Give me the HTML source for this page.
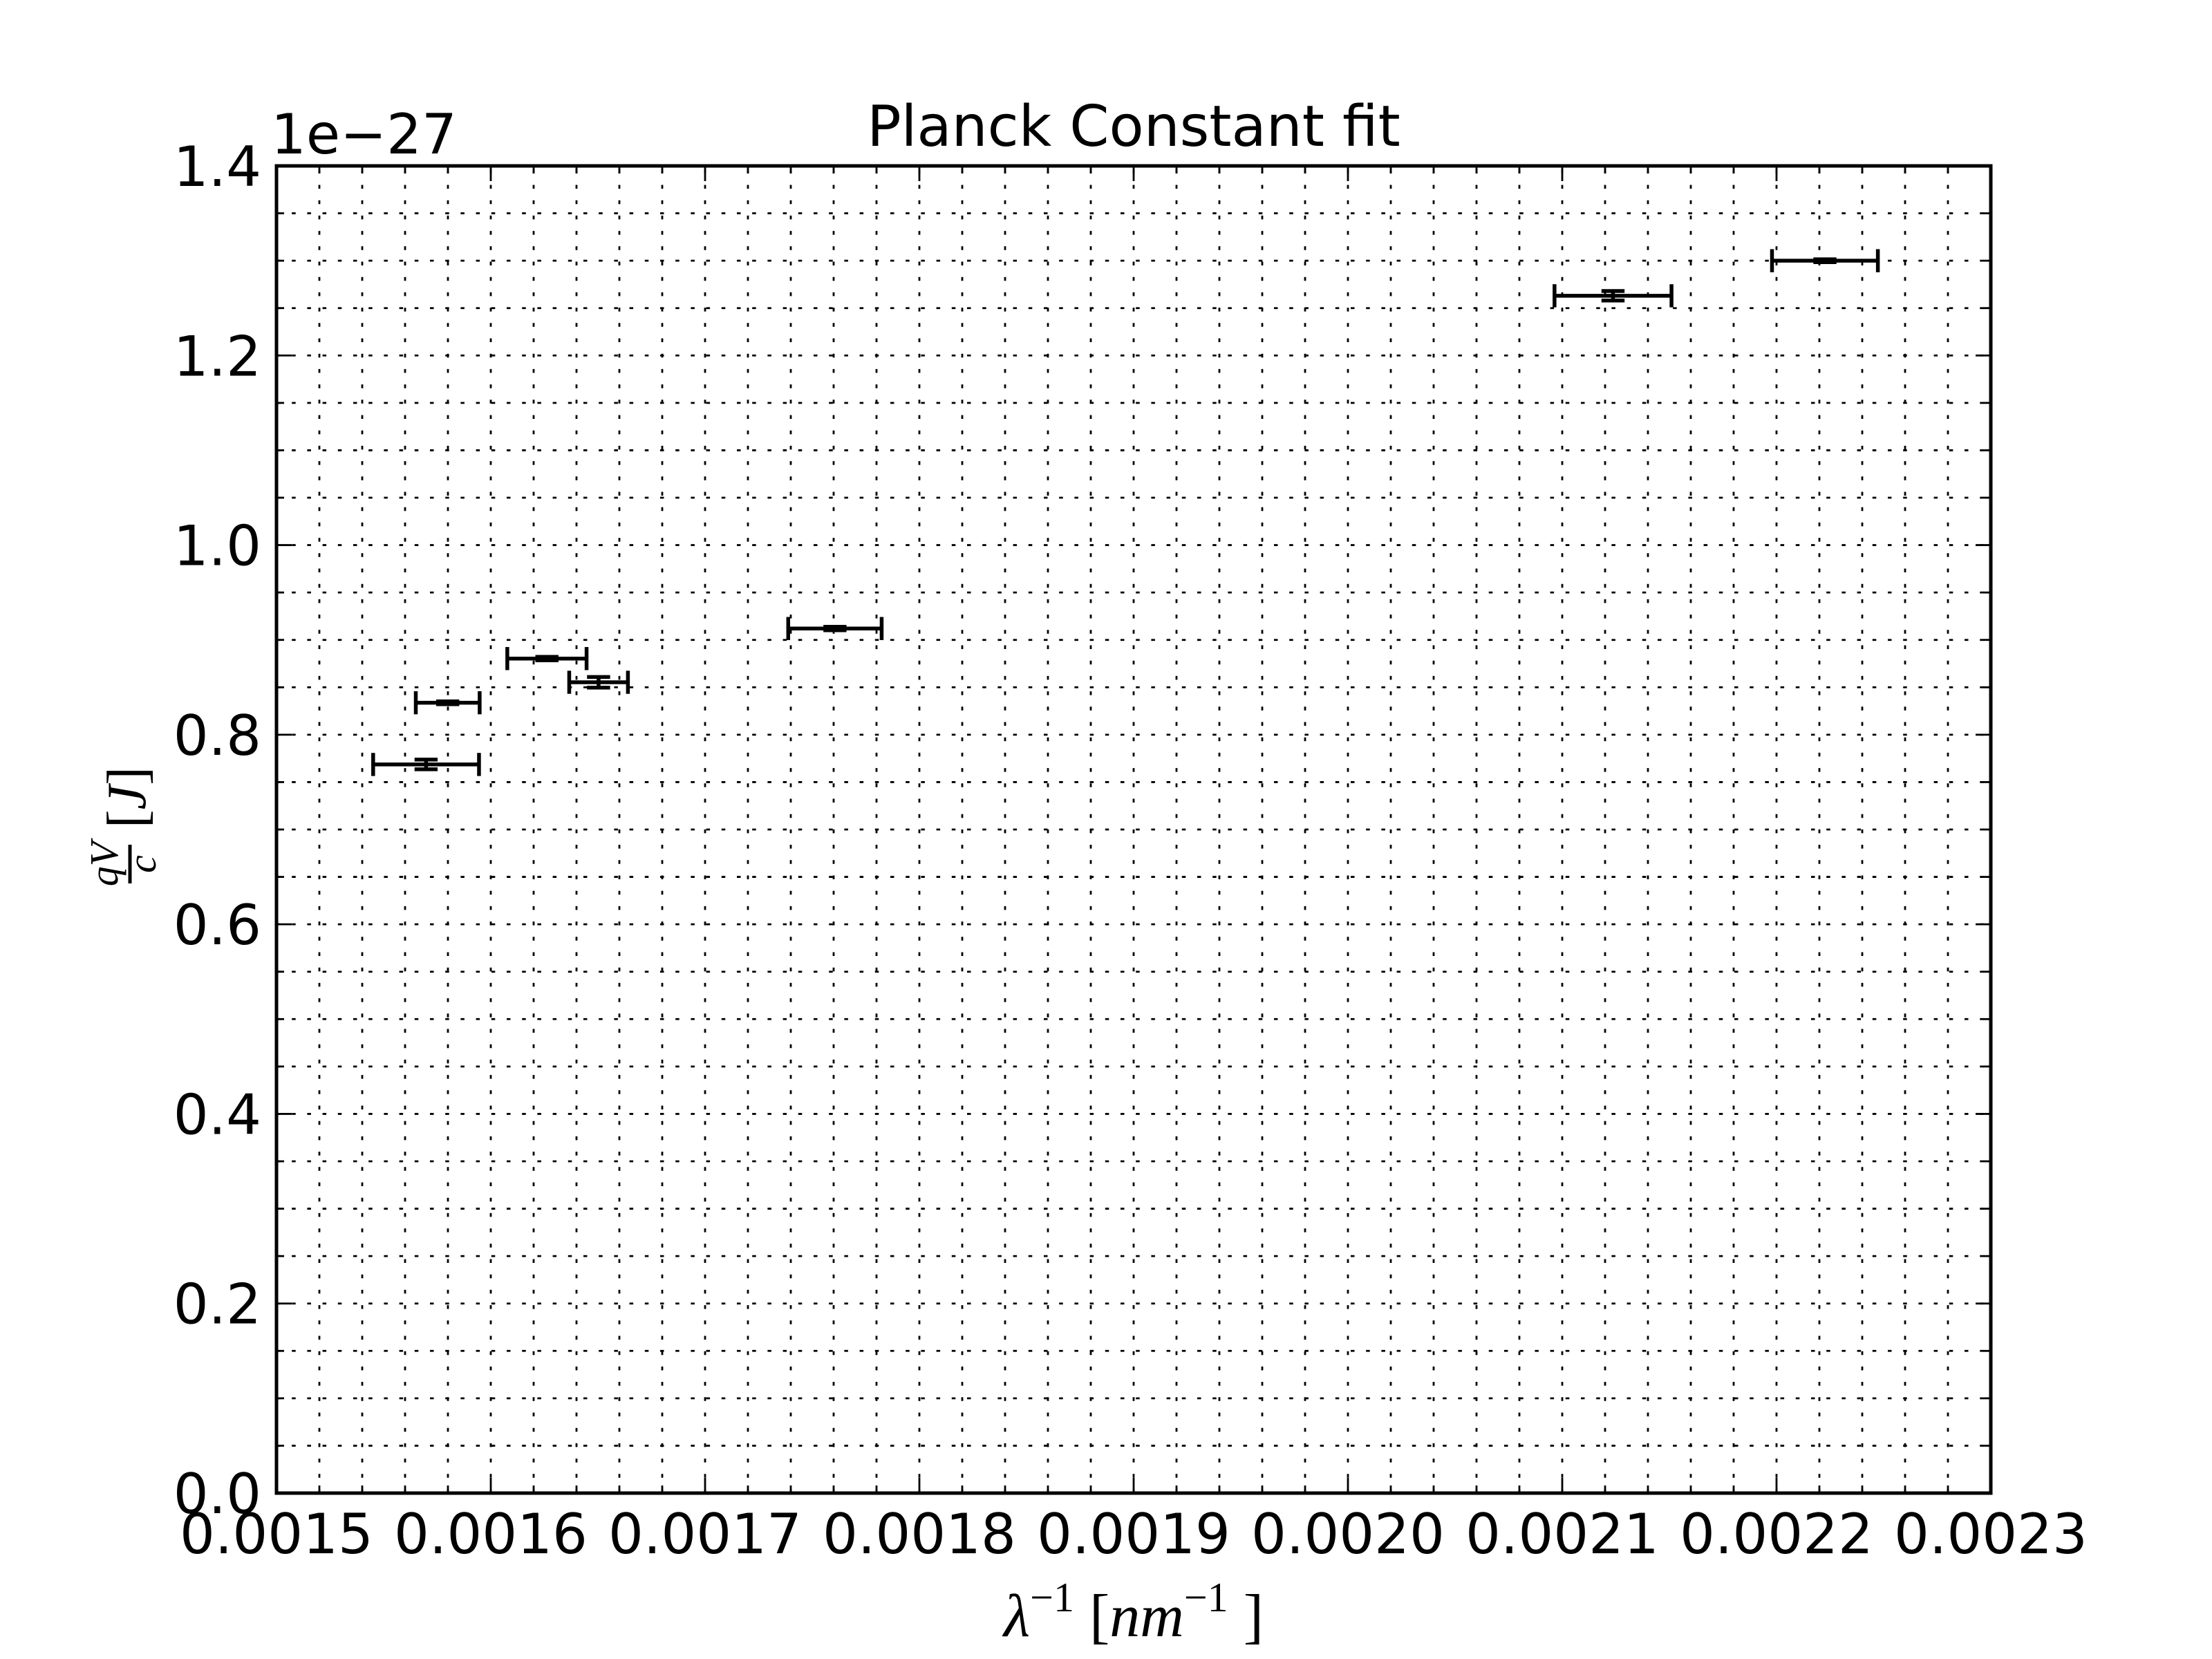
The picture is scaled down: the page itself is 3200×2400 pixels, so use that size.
<!DOCTYPE html>
<html><head><meta charset="utf-8"><style>
html,body{margin:0;padding:0;background:#fff;}
svg{display:block;}
text{font-family:"DejaVu Sans","Liberation Sans",sans-serif;fill:#000;}
.serif{font-family:"Liberation Serif","DejaVu Serif",serif;}
</style></head><body>
<svg id="chart" xmlns="http://www.w3.org/2000/svg" width="3200" height="2400" viewBox="0 0 3200 2400">
<rect x="0" y="0" width="3200" height="2400" fill="#fff"/>
<g id="grid"></g>
<g id="ticks"></g>
<g id="marks"></g>
<rect x="400" y="240" width="2480" height="1920" fill="none" stroke="#000" stroke-width="5"/>
<g id="labels"></g>
<text x="1640" y="211" font-size="82" text-anchor="middle">Planck Constant fit</text>
<text x="392" y="222" font-size="80">1e−27</text>
<text x="1640" y="2367" font-size="88" text-anchor="middle" class="serif"><tspan font-style="italic">λ</tspan><tspan font-size="60" dy="-36">−1</tspan><tspan dy="36"> [</tspan><tspan font-style="italic">nm</tspan><tspan font-size="60" dy="-36">−1</tspan><tspan dy="36"> ]</tspan></text>
<g transform="translate(188,1200) rotate(-90)">
  <line x1="-78" y1="0" x2="-22" y2="0" stroke="#000" stroke-width="5"/>
  <text x="-50" y="-18" font-size="58" text-anchor="middle" class="serif" font-style="italic">qV</text>
  <text x="-50" y="37" font-size="58" text-anchor="middle" class="serif" font-style="italic">c</text>
  <text x="2" y="22" font-size="80" class="serif">[<tspan font-style="italic">J</tspan>]</text>
</g>
</svg>
<script>
const xValues = [0.0015698, 0.0015799, 0.0016262, 0.0016503, 0.0017606, 0.0021237, 0.0022226];
const yValues = [0.7686, 0.8337, 0.8803, 0.8553, 0.9120, 1.2630, 1.3000];
const xErrors = [0.0000247, 0.0000149, 0.0000185, 0.0000137, 0.0000218, 0.0000273, 0.0000247];
const yErrors = [0.0051, 0.0015, 0.0018, 0.0056, 0.0018, 0.0050, 0.0015];
const xTickLabels = ["0.0015","0.0016","0.0017","0.0018","0.0019","0.0020","0.0021","0.0022","0.0023"];
const yTickLabels = ["0.0","0.2","0.4","0.6","0.8","1.0","1.2","1.4"];

const NS = "http://www.w3.org/2000/svg";
const L = 400, R = 2880, T = 240, B = 2160;
const xMin = 0.0015, xMax = 0.0023, yMin = 0, yMax = 1.4;
function sx(v){ return L + (v - xMin) / (xMax - xMin) * (R - L); }
function sy(v){ return B - (v - yMin) / (yMax - yMin) * (B - T); }
function mk(tag, attrs, parent){
  const e = document.createElementNS(NS, tag);
  for (const k in attrs) e.setAttribute(k, attrs[k]);
  parent.appendChild(e);
  return e;
}
const grid = document.getElementById('grid');
const ticks = document.getElementById('ticks');
const marks = document.getElementById('marks');
const labels = document.getElementById('labels');

for (let i = 0; i <= 40; i++) {
  const v = xMin + i * 0.00002;
  const x = sx(v);
  const major = i % 5 === 0;
  if (i > 0 && i < 40) {
    const g = mk('line', {x1:x, y1:B, x2:x, y2:T, stroke:'#000', 'stroke-width':2.8, 'stroke-dasharray':'5.5 16.7'}, grid);
    
    
  }
  const len = major ? 22 : 11;
  const t1 = mk('line', {x1:x, y1:B, x2:x, y2:B-len, stroke:'#000', 'stroke-width':2.8}, ticks);
  
  
  const t2 = mk('line', {x1:x, y1:T, x2:x, y2:T+len, stroke:'#000', 'stroke-width':2.8}, ticks);
  
  
}
xTickLabels.forEach((s, i) => {
  const t = mk('text', {x: sx(xMin + i * 0.0001), y: 2247, 'font-size': 80, 'text-anchor': 'middle'}, labels);
  t.textContent = s;
  
  
});
for (let i = 0; i <= 28; i++) {
  const v = i * 0.05;
  const y = sy(v);
  const major = i % 4 === 0;
  if (i > 0 && i < 28) {
    const g = mk('line', {x1:L, y1:y, x2:R, y2:y, stroke:'#000', 'stroke-width':2.8, 'stroke-dasharray':'5.5 16.7'}, grid);
    
    
  }
  const len = major ? 22 : 11;
  const t1 = mk('line', {x1:L, y1:y, x2:L+len, y2:y, stroke:'#000', 'stroke-width':2.8}, ticks);
  
  
  const t2 = mk('line', {x1:R, y1:y, x2:R-len, y2:y, stroke:'#000', 'stroke-width':2.8}, ticks);
  
  
}
yTickLabels.forEach((s, i) => {
  const t = mk('text', {x: 378, y: sy(i * 0.2) + 29, 'font-size': 80, 'text-anchor': 'end'}, labels);
  t.textContent = s;
  
  
});
const cap = 16.7;
xValues.forEach((xv, i) => {
  const g = mk('g', {stroke:'#000', 'stroke-width':5.5, fill:'none'}, marks);
  
  
  const x0 = sx(xv - xErrors[i]), x1 = sx(xv + xErrors[i]), xc = sx(xv);
  const yc = sy(yValues[i]), y0 = sy(yValues[i] - yErrors[i]), y1 = sy(yValues[i] + yErrors[i]);
  mk('line', {x1:x0, y1:yc, x2:x1, y2:yc}, g);
  mk('line', {x1:x0, y1:yc-cap, x2:x0, y2:yc+cap}, g);
  mk('line', {x1:x1, y1:yc-cap, x2:x1, y2:yc+cap}, g);
  mk('line', {x1:xc, y1:y0, x2:xc, y2:y1}, g);
  mk('line', {x1:xc-cap, y1:y0, x2:xc+cap, y2:y0}, g);
  mk('line', {x1:xc-cap, y1:y1, x2:xc+cap, y2:y1}, g);
});
</script>
</body></html>
